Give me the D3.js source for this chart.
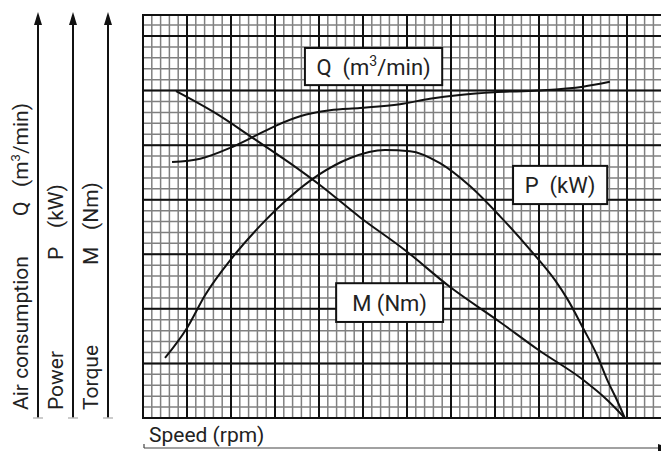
<!DOCTYPE html>
<html>
<head>
<meta charset="utf-8">
<script src="https://cdn.jsdelivr.net/npm/d3@7"></script>
<style>
  body { margin: 0; background: #fff; }
  text { font-family: Roboto, "Noto Sans", sans-serif; fill: #222; }
</style>
</head>
<body>
<script>
// Speed and values are read in grid units (1 = one heavy grid line)
const speedQ = [0.66, 1.30, 1.98, 2.50, 3.00, 3.57, 4.25, 4.93, 5.84, 6.52, 7.20, 7.98, 8.98, 10.0, 10.61];
const airQ   = [4.69, 4.75, 4.95, 5.15, 5.35, 5.53, 5.64, 5.68, 5.75, 5.85, 5.92, 5.97, 6.00, 6.07, 6.16];

const speedP = [0.50, 1.00, 1.41, 2.02, 2.66, 3.34, 3.98, 4.70, 5.50, 6.07, 6.75, 7.43, 8.11, 8.80, 9.36, 9.66, 10.0, 10.32, 10.55, 10.77, 10.95];
const powerP = [1.10, 1.65, 2.25, 2.93, 3.52, 4.05, 4.45, 4.76, 4.91, 4.89, 4.67, 4.25, 3.70, 3.08, 2.53, 2.16, 1.65, 1.15, 0.70, 0.33, 0];

const speedM  = [0.75, 1.64, 2.50, 3.34, 4.02, 4.93, 5.95, 6.98, 8.11, 8.98, 10.0, 10.55, 10.95];
const torqueM = [5.99, 5.59, 5.13, 4.67, 4.27, 3.68, 3.08, 2.40, 1.76, 1.25, 0.70, 0.33, 0];

const axisNames = ["Air consumption", "Power", "Torque"];
const axisSymbols = ["Q", "P", "M"];
const axisUnits = ["(m|3|/min)", "(kW)", "(Nm)"];

const W = 661, H = 451;

const svg = d3.select("body")
    .append("svg")
    .attr("width", W)
    .attr("height", H);

const x = d3.scaleLinear().domain([0, 11]).range([143, 627]);
const y = d3.scaleLinear().domain([0, 7]).range([418, 36]);
const xMax = x.invert(W);
const yMax = y.invert(15);

// graph paper: thin grey lines every 1/5 division, black every division
const minorX = d3.range(0, xMax, 0.2);
const minorY = d3.range(0, yMax, 0.2);
const majorX = d3.range(0, xMax, 1);
const majorY = d3.range(0, yMax, 1);

const grid = svg.append("g");
grid.selectAll("line.mx")
    .data(minorX)
    .enter().append("line")
    .attr("x1", d => x(d)).attr("x2", d => x(d))
    .attr("y1", y(0)).attr("y2", y(yMax))
    .attr("stroke", "#808080").attr("stroke-width", 1.5);
grid.selectAll("line.my")
    .data(minorY)
    .enter().append("line")
    .attr("y1", d => y(d)).attr("y2", d => y(d))
    .attr("x1", x(0)).attr("x2", W)
    .attr("stroke", "#808080").attr("stroke-width", 1.5);
grid.selectAll("line.Mx")
    .data(majorX)
    .enter().append("line")
    .attr("x1", d => x(d)).attr("x2", d => x(d))
    .attr("y1", y(0)).attr("y2", y(yMax))
    .attr("stroke", "#111").attr("stroke-width", 2);
grid.selectAll("line.My")
    .data(majorY.concat([yMax]))
    .enter().append("line")
    .attr("y1", d => y(d)).attr("y2", d => y(d))
    .attr("x1", x(0) - 1).attr("x2", W)
    .attr("stroke", "#111").attr("stroke-width", 2);

// curves
const line = d3.line()
    .x(d => x(d[0]))
    .y(d => y(d[1]))
    .curve(d3.curveMonotoneX);

const series = [
  d3.zip(speedQ, airQ),
  d3.zip(speedP, powerP),
  d3.zip(speedM, torqueM)
];

svg.selectAll("path.curve")
    .data(series)
    .enter().append("path")
    .attr("class", "curve")
    .attr("d", line)
    .attr("fill", "none")
    .attr("stroke", "#111")
    .attr("stroke-width", 2);

// boxed curve labels
const boxes = [
  {text: "Q  (m|3|/min)", x0: 3.68, x1: 6.80, y0: 6.78, y1: 6.10},
  {text: "P  (kW)",       x0: 8.41, x1: 10.55, y0: 4.62, y1: 3.92},
  {text: "M (Nm)",        x0: 4.39, x1: 6.82, y0: 2.47, y1: 1.76}
];

function addText(sel, str, supSize, rise) {
  // "a|3|b" renders 3 as a superscript
  const parts = str.split("|");
  sel.append("tspan").text(parts[0]);
  if (parts.length > 1) {
    sel.append("tspan").attr("font-size", supSize).attr("dy", -rise).text(parts[1]);
    sel.append("tspan").attr("dy", rise).text(parts[2]);
  }
}

boxes.forEach(b => {
  svg.append("rect")
      .attr("x", x(b.x0)).attr("y", y(b.y0))
      .attr("width", x(b.x1) - x(b.x0))
      .attr("height", y(b.y1) - y(b.y0))
      .attr("fill", "#fff")
      .attr("stroke", "#111")
      .attr("stroke-width", 2);
  const t = svg.append("text")
      .attr("x", (x(b.x0) + x(b.x1)) / 2)
      .attr("y", (y(b.y0) + y(b.y1)) / 2 + 8)
      .attr("text-anchor", "middle")
      .attr("font-size", 22)
      .style("white-space", "pre");
  addText(t, b.text, 14, 9);
});

// left value axes
const axisX = [38, 73, 108];
const symbolY = [216, 260, 265];
const unitY = [187, 228, 230];

axisX.forEach((cx, i) => {
  svg.append("line")
      .attr("x1", cx).attr("x2", cx)
      .attr("y1", 418).attr("y2", 22)
      .attr("stroke", "#111").attr("stroke-width", 2);
  svg.append("path")
      .attr("d", `M${cx},12L${cx - 4},25L${cx + 4},25Z`)
      .attr("fill", "#111");
  svg.append("line")
      .attr("x1", cx - 5).attr("x2", cx + 5)
      .attr("y1", 418).attr("y2", 418)
      .attr("stroke", "#bbb").attr("stroke-width", 1.5);

  const bx = cx - 10;
  svg.append("text")
      .attr("transform", `translate(${bx},410) rotate(-90)`)
      .attr("font-size", 21)
      .text(axisNames[i]);
  svg.append("text")
      .attr("transform", `translate(${bx},${symbolY[i]}) rotate(-90)`)
      .attr("font-size", 21)
      .text(axisSymbols[i]);
  const u = svg.append("text")
      .attr("transform", `translate(${bx},${unitY[i]}) rotate(-90)`)
      .attr("font-size", 21);
  addText(u, axisUnits[i], 13, 8);
});

// speed axis
svg.append("line")
    .attr("x1", 144).attr("x2", W)
    .attr("y1", 448).attr("y2", 448)
    .attr("stroke", "#444").attr("stroke-width", 1.2);
svg.append("line")
    .attr("x1", 144).attr("x2", 144)
    .attr("y1", 444).attr("y2", 448)
    .attr("stroke", "#444").attr("stroke-width", 1.2);
svg.append("path")
    .attr("d", `M670,448L658,444L658,452Z`)
    .attr("fill", "#111");
svg.append("text")
    .attr("x", 149).attr("y", 442)
    .attr("font-size", 21)
    .text("Speed (rpm)");
</script>
</body>
</html>
